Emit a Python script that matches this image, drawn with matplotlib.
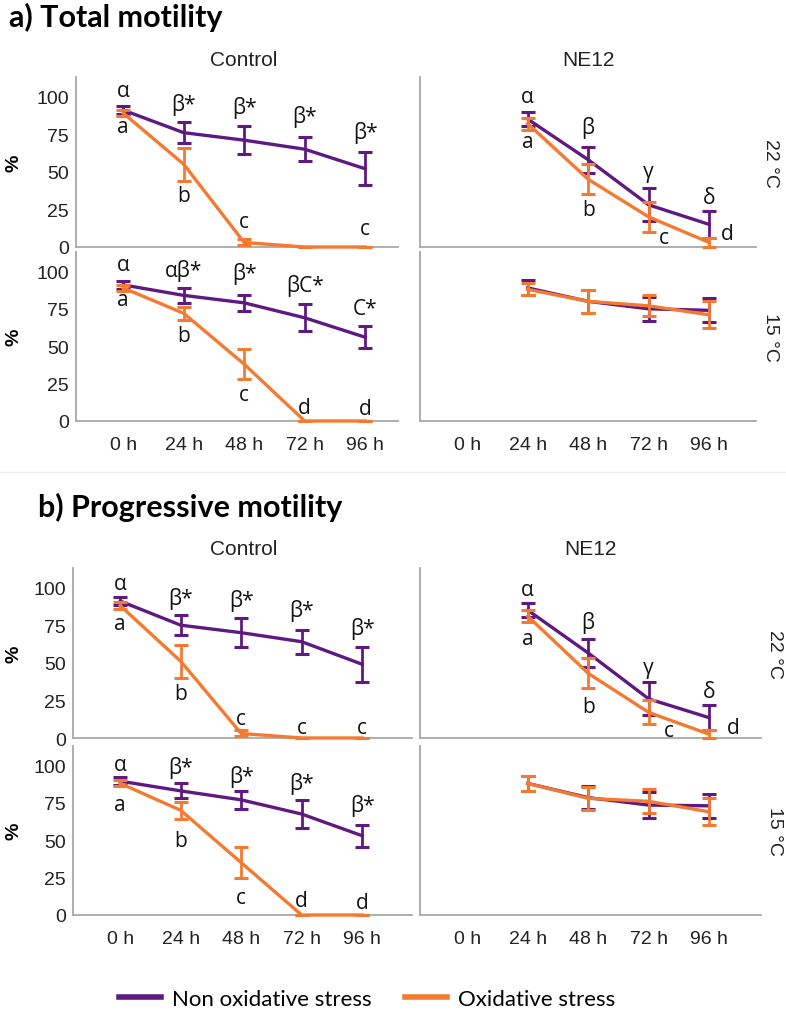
import numpy as np
import matplotlib
matplotlib.use('Agg')
import matplotlib.pyplot as plt
from matplotlib.lines import Line2D

nan = np.nan
hours = ['0 h', '24 h', '48 h', '72 h', '96 h']

# a) Total motility
tot_ctrl22_non = [91, 76, 71, 65, 52]
tot_ctrl22_non_err = [2.5, 7, 9.5, 8, 11]
tot_ctrl22_ox = [89, 55, 3, 0, 0]
tot_ctrl22_ox_err = [2, 11, 2, 0, 0]
tot_ctrl15_non = [91, 84, 79, 69, 56]
tot_ctrl15_non_err = [2.5, 5, 5.5, 9, 7.5]
tot_ctrl15_ox = [89, 72, 38, 0, 0]
tot_ctrl15_ox_err = [2, 4.5, 10, 0, 0]
tot_ne22_non = [nan, 85, 58, 28, 15]
tot_ne22_non_err = [nan, 4.5, 8.5, 11, 9]
tot_ne22_ox = [nan, 82, 45, 20, 3]
tot_ne22_ox_err = [nan, 4, 10, 10, 3]
tot_ne15_non = [nan, 89, 80, 75, 74]
tot_ne15_non_err = [nan, 5, 7.5, 8, 8]
tot_ne15_ox = [nan, 88, 80, 77, 71]
tot_ne15_ox_err = [nan, 4, 7.5, 7, 9]

# b) Progressive motility
prog_ctrl22_non = [91, 75, 70, 64, 49]
prog_ctrl22_non_err = [2.5, 6.5, 9.5, 8, 11.5]
prog_ctrl22_ox = [88, 51, 3, 0, 0]
prog_ctrl22_ox_err = [2.5, 11, 2, 0, 0]
prog_ctrl15_non = [89.5, 83, 77, 67.5, 53]
prog_ctrl15_non_err = [2.5, 5, 6, 9.5, 7.5]
prog_ctrl15_ox = [88, 70, 35, 0, 0]
prog_ctrl15_ox_err = [2, 5.5, 10.5, 0, 0]
prog_ne22_non = [nan, 85, 56.5, 26, 13.5]
prog_ne22_non_err = [nan, 4.5, 9.5, 11, 8.5]
prog_ne22_ox = [nan, 81, 43, 17, 2.5]
prog_ne22_ox_err = [nan, 4, 10, 8, 2.5]
prog_ne15_non = [nan, 88, 78.5, 73.5, 73]
prog_ne15_non_err = [nan, 5, 7.5, 8.5, 8]
prog_ne15_ox = [nan, 88, 78, 76, 69]
prog_ne15_ox_err = [nan, 5, 7.5, 8, 9]

# significance letters (greek: non oxidative, latin: oxidative)
tot_ctrl22_greek = ['α', 'β*', 'β*', 'β*', 'β*']
tot_ctrl22_latin = ['a', 'b', 'c', '', 'c']
tot_ctrl15_greek = ['α', 'αβ*', 'β*', 'βC*', 'C*']
tot_ctrl15_latin = ['a', 'b', 'c', 'd', 'd']
tot_ne22_greek = ['', 'α', 'β', 'γ', 'δ']
tot_ne22_latin = ['', 'a', 'b', 'c', 'd']
prog_ctrl22_greek = ['α', 'β*', 'β*', 'β*', 'β*']
prog_ctrl22_latin = ['a', 'b', 'c', 'c', 'c']
prog_ctrl15_greek = ['α', 'β*', 'β*', 'β*', 'β*']
prog_ctrl15_latin = ['a', 'b', 'c', 'd', 'd']
prog_ne22_greek = ['', 'α', 'β', 'γ', 'δ']
prog_ne22_latin = ['', 'a', 'b', 'c', 'd']

# where the letters sit (y in data units, x shift in tick units)
lab_pos = {
    'tot_ctrl22': ([104, 95, 93, 87, 76.5], [80, 34, 17, 0, 12], [0, 0, 0, 0, 0]),
    'tot_ctrl15': ([104.5, 101, 99, 91, 75], [81, 57, 18, 9, 8.5], [0, 0, 0, 0, 0]),
    'tot_ne22': ([0, 100, 80, 50, 32.7], [0, 70, 25, 6.5, 8.7], [0, 0, 0, 0.25, 0.3]),
    'prog_ctrl22': ([103, 93, 92, 85, 73], [76, 29.5, 13, 7, 6.7], [0, 0, 0, 0, 0]),
    'prog_ctrl15': ([100.7, 99, 93, 88, 73.5], [74, 50, 12, 9.5, 8.4], [0, 0, 0, 0, 0]),
    'prog_ne22': ([0, 99, 77, 47, 31], [0, 66, 20.7, 5, 7.3], [0, 0, 0, 0.33, 0.4]),
}

PURPLE = '#5e1a80'
ORANGE = '#f37a30'
GRAY = '#a8a8a8'
ANNOT_FONT = ['Open Sans', 'DejaVu Sans']
TITLE_FONT = ['Lato', 'DejaVu Sans']
AX_FONT = ['Liberation Sans', 'DejaVu Sans']

W, H = 786, 1012
fig = plt.figure(figsize=(W / 100, H / 100), dpi=100)


def px_axes(left, top, right, bottom):
    return fig.add_axes([left / W, 1 - bottom / H, (right - left) / W, (bottom - top) / H])


def draw_panel(ax, non, non_err, ox, ox_err, xright, show_y, show_x,
               greek=None, latin=None, key=None):
    x = np.arange(len(hours))
    ax.errorbar(x, non, yerr=non_err, color=PURPLE, lw=2.4, elinewidth=2,
                capsize=5, capthick=2.2, clip_on=False, zorder=3)
    ax.errorbar(x, ox, yerr=ox_err, color=ORANGE, lw=2.4, elinewidth=2,
                capsize=5, capthick=2.2, clip_on=False, zorder=4)
    ax.set_xlim(-0.78, xright)
    ax.set_ylim(0, 113)
    for s in ['top', 'right']:
        ax.spines[s].set_visible(False)
    for s in ['left', 'bottom']:
        ax.spines[s].set_color(GRAY)
        ax.spines[s].set_linewidth(1.3)
    ax.set_xticks(x)
    ax.set_yticks([0, 25, 50, 75, 100])
    ax.tick_params(length=0, labelsize=14, colors='#222222', pad=5)
    ax.tick_params(axis='x', pad=11)
    if show_x:
        ax.set_xticklabels(hours, family=AX_FONT)
    else:
        ax.set_xticklabels([])
    if show_y:
        ax.set_yticklabels(['0', '25', '50', '75', '100'], family=AX_FONT)
    else:
        ax.set_yticklabels([])
    if greek is not None:
        gy, ly, ldx = lab_pos[key]
        for i in range(len(hours)):
            if greek[i]:
                ax.text(x[i], gy[i], greek[i], ha='center', va='center',
                        fontsize=15, family=ANNOT_FONT, color='#111111', zorder=5)
            if latin[i]:
                ax.text(x[i] + ldx[i], ly[i], latin[i], ha='center', va='center',
                        fontsize=15, family=ANNOT_FONT, color='#111111', zorder=5)


def section(title, title_x, title_y, head_y, rows, ctrl_lr, ne_lr, data):
    fig.text(title_x / W, 1 - title_y / H, title, fontsize=22, fontweight='bold',
             family=TITLE_FONT, ha='left', va='center')
    c_left, c_right = ctrl_lr
    n_left, n_right = ne_lr
    fig.text(244 / W, 1 - head_y / H, 'Control', fontsize=15,
             family=AX_FONT, ha='center', va='center', color='#222222')
    fig.text((n_left + n_right) / 2 / W, 1 - head_y / H, 'NE12', fontsize=15,
             family=AX_FONT, ha='center', va='center', color='#222222')
    temps = ['22 °C', '15 °C']
    for r, (top, bottom) in enumerate(rows):
        last = r == 1
        ax_c = px_axes(c_left, top, c_right, bottom)
        d = data[r][0]
        draw_panel(ax_c, *d[:4], -0.78 + (c_right - c_left) / 60.5, True, last,
                   d[4], d[5], d[6])
        ax_n = px_axes(n_left, top, n_right, bottom)
        d = data[r][1]
        draw_panel(ax_n, *d[:4], -0.78 + (n_right - n_left) / 60.5, False, last,
                   d[4], d[5], d[6])
        fig.text(14 / W, 1 - (top + bottom) / 2 / H, '%', rotation=90, fontsize=14,
                 fontweight='bold', family=AX_FONT, ha='center', va='center')
        fig.text((n_right + 14) / W, 1 - (top + bottom) / 2 / H, temps[r], rotation=270,
                 fontsize=14, family=AX_FONT, ha='center', va='center', color='#222222')


section('a) Total motility', 9, 17, 60,
        [(78, 248), (253, 422)], (76, 398), (420, 756),
        [[(tot_ctrl22_non, tot_ctrl22_non_err, tot_ctrl22_ox, tot_ctrl22_ox_err,
           tot_ctrl22_greek, tot_ctrl22_latin, 'tot_ctrl22'),
          (tot_ne22_non, tot_ne22_non_err, tot_ne22_ox, tot_ne22_ox_err,
           tot_ne22_greek, tot_ne22_latin, 'tot_ne22')],
         [(tot_ctrl15_non, tot_ctrl15_non_err, tot_ctrl15_ox, tot_ctrl15_ox_err,
           tot_ctrl15_greek, tot_ctrl15_latin, 'tot_ctrl15'),
          (tot_ne15_non, tot_ne15_non_err, tot_ne15_ox, tot_ne15_ox_err,
           None, None, None)]])

section('b) Progressive motility', 38, 507, 550,
        [(569, 739), (747, 916)], (73, 412), (420, 761),
        [[(prog_ctrl22_non, prog_ctrl22_non_err, prog_ctrl22_ox, prog_ctrl22_ox_err,
           prog_ctrl22_greek, prog_ctrl22_latin, 'prog_ctrl22'),
          (prog_ne22_non, prog_ne22_non_err, prog_ne22_ox, prog_ne22_ox_err,
           prog_ne22_greek, prog_ne22_latin, 'prog_ne22')],
         [(prog_ctrl15_non, prog_ctrl15_non_err, prog_ctrl15_ox, prog_ctrl15_ox_err,
           prog_ctrl15_greek, prog_ctrl15_latin, 'prog_ctrl15'),
          (prog_ne15_non, prog_ne15_non_err, prog_ne15_ox, prog_ne15_ox_err,
           None, None, None)]])

# faint separator between the two parts
fig.add_artist(Line2D([0, 1], [1 - 473 / H, 1 - 473 / H], color='#efefef', lw=1))

handles = [Line2D([], [], color=PURPLE, lw=4), Line2D([], [], color=ORANGE, lw=4)]
fig.legend(handles, ['Non oxidative stress', 'Oxidative stress'], loc='center',
           bbox_to_anchor=(367 / W, 1 - 1000 / H), ncol=2, frameon=False,
           prop={'family': TITLE_FONT, 'size': 16}, handlelength=1.9,
           handletextpad=0.5, columnspacing=1.5)

fig.savefig('out.png', dpi=100)
